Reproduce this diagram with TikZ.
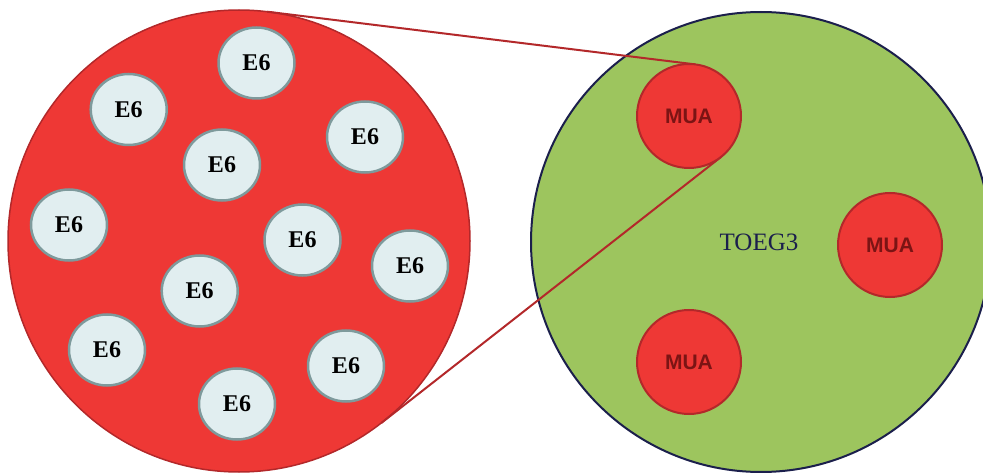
\documentclass[tikz,border=0pt]{standalone}
\usepackage{fontspec}
\setmainfont{Liberation Serif}
\newfontfamily\muafont{Liberation Sans}
\usetikzlibrary{shapes.geometric}
\definecolor{redfill}{HTML}{EE3835}
\definecolor{redline}{HTML}{B3282A}
\definecolor{greenfill}{HTML}{9DC55E}
\definecolor{navyline}{HTML}{1B1F4C}
\definecolor{efill}{HTML}{E1EEF0}
\definecolor{eline}{HTML}{7E9A9C}
\definecolor{muatext}{HTML}{7B1414}
\tikzset{
  bigred/.style={circle, draw=redline, fill=redfill, line width=1.5pt, minimum size=462pt, inner sep=0pt},
  biggreen/.style={circle, draw=navyline, fill=greenfill, line width=2pt, minimum size=460pt, inner sep=0pt},
  enode/.style={ellipse, draw=eline, fill=efill, line width=2.5pt, minimum width=76pt, minimum height=71pt, inner sep=0pt, font=\fontsize{24}{24}\selectfont\bfseries},
  muanode/.style={circle, draw=redline, fill=redfill, line width=2pt, minimum size=104pt, inner sep=0pt, text=muatext, font=\muafont\fontsize{21}{21}\selectfont\bfseries},
  zoomline/.style={draw=redline, line width=2pt},
}
\begin{document}
\begin{tikzpicture}[x=1pt,y=-1pt]
\useasboundingbox (0,0) rectangle (983,473);
\begin{scope}
\clip (0,0) rectangle (983,473);
\node[biggreen] (green) at (761,242) {};
\node[bigred] (red) at (239,241) {};
\end{scope}
\node[font=\fontsize{25}{25}\selectfont, text=navyline] (toeg) at (759,242) {TOEG3};
\coordinate (ta) at (267.2,11.7);
\coordinate (tb) at (695.3,64.4);
\coordinate (ba) at (381.4,422.9);
\coordinate (bb) at (721.1,156.9);
\draw[zoomline] (ta) -- (tb);
\draw[zoomline] (ba) -- (bb);
\node[muanode] (m1) at (689,116) {MUA};
\node[muanode] (m2) at (890,245) {MUA};
\node[muanode] (m3) at (689,362) {MUA};
\node[enode] (e1) at (256.5,63) {E6};
\node[enode] (e2) at (128.7,109.5) {E6};
\node[enode] (e3) at (365,137) {E6};
\node[enode] (e4) at (222,165) {E6};
\node[enode] (e5) at (69,225) {E6};
\node[enode] (e6) at (302.5,240) {E6};
\node[enode] (e7) at (410,266) {E6};
\node[enode] (e8) at (199.7,291) {E6};
\node[enode] (e9) at (107,350) {E6};
\node[enode] (e10) at (346,366) {E6};
\node[enode] (e11) at (237,404) {E6};
\end{tikzpicture}
\end{document}
